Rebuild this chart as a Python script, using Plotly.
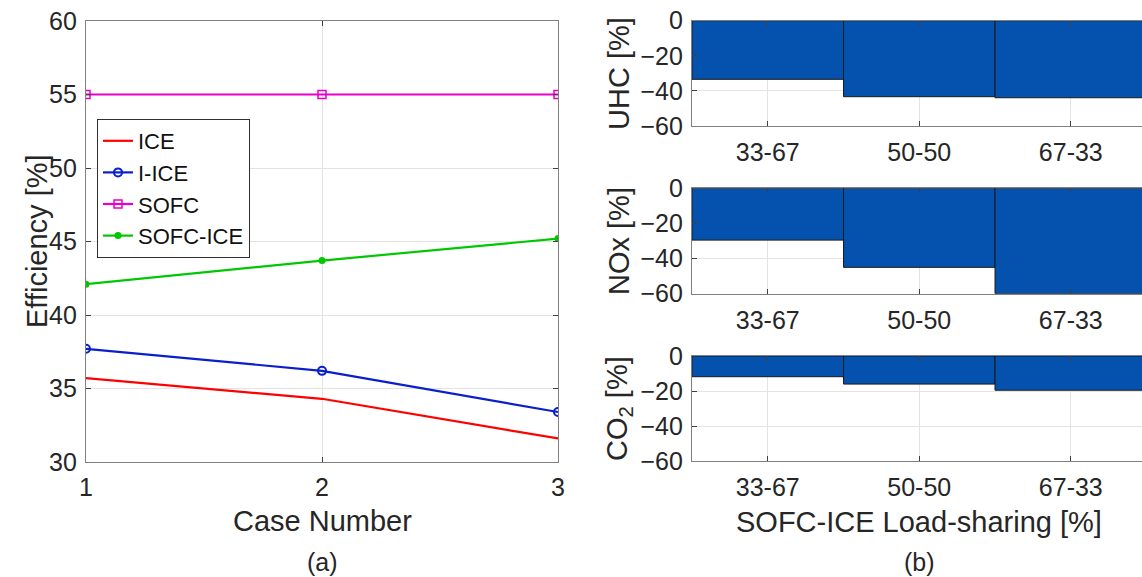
import plotly.graph_objects as go

# ---- data ----
cases = [1, 2, 3]
eff_ice = [35.7, 34.3, 31.6]
eff_iice = [37.7, 36.2, 33.4]
eff_sofc = [55.0, 55.0, 55.0]
eff_sofc_ice = [42.1, 43.7, 45.2]

load_sharing = ["33-67", "50-50", "67-33"]
share_pos = [1, 2, 3]
uhc_change = [-33.4, -43.3, -43.9]
nox_change = [-29.5, -45.0, -60.0]
co2_change = [-11.8, -16.0, -19.5]

W, H = 1142, 577
FONT = "Liberation Sans, Arial, Helvetica, sans-serif"
TXT = "#262626"
AX = "#808080"
GRID = "#e3e3e3"
BAR = "#0452ae"


def px(x):
    return x / W


def py(y):
    return 1 - y / H


fig = go.Figure()

# ---- panel (a): efficiency lines ----
fig.add_trace(go.Scatter(x=cases, y=eff_ice, name="ICE", mode="lines",
                         line=dict(color="#ff0000", width=2.2),
                         xaxis="x", yaxis="y"))
fig.add_trace(go.Scatter(x=cases, y=eff_iice, name="I-ICE", mode="lines+markers",
                         line=dict(color="#0a1ecc", width=2.2),
                         marker=dict(symbol="circle-open", size=8,
                                     line=dict(width=2, color="#0a1ecc")),
                         xaxis="x", yaxis="y"))
fig.add_trace(go.Scatter(x=cases, y=eff_sofc, name="SOFC", mode="lines+markers",
                         line=dict(color="#e600c8", width=2.2),
                         marker=dict(symbol="square-open", size=8,
                                     line=dict(width=1.5, color="#e600c8")),
                         xaxis="x", yaxis="y"))
fig.add_trace(go.Scatter(x=cases, y=eff_sofc_ice, name="SOFC-ICE", mode="lines+markers",
                         line=dict(color="#00c800", width=2.2),
                         marker=dict(symbol="circle", size=7, color="#00c800"),
                         xaxis="x", yaxis="y"))

# ---- panel (b): emission change bars ----
for vals, xa, ya in [(uhc_change, "x2", "y2"),
                     (nox_change, "x3", "y3"),
                     (co2_change, "x4", "y4")]:
    fig.add_trace(go.Bar(x=share_pos, y=vals, width=1.0, showlegend=False,
                         marker=dict(color=BAR, line=dict(color="#1a1a1a", width=1)),
                         xaxis=xa, yaxis=ya))

common = dict(showline=True, linecolor=AX, linewidth=1.2, gridcolor=GRID,
              showgrid=True, zeroline=False, ticks="inside", ticklen=5,
              tickcolor="#404040", tickfont=dict(family=FONT, size=25, color=TXT),
              automargin=False)

xr_left, xr_right = 86, 558
right_l = 692

layout_axes = dict(
    xaxis=dict(domain=[px(xr_left), px(xr_right)], range=[1, 3],
               tickvals=[1, 2, 3], mirror="ticks", anchor="y",
               ticklabelstandoff=3, **common),
    yaxis=dict(domain=[py(462), py(21)], range=[30, 60],
               tickvals=[30, 35, 40, 45, 50, 55, 60], mirror="ticks", anchor="x",
               ticklabelstandoff=3, **common),
)

panels = [(20.7, 126.0), (188.3, 293.7), (356.0, 461.3)]
for i, (top, bot) in enumerate(panels, start=2):
    layout_axes[f"xaxis{i}"] = dict(domain=[px(right_l), 1.0], range=[0.5, 3.47],
                                    tickvals=share_pos, ticktext=load_sharing,
                                    mirror="ticks", anchor=f"y{i}",
                                    ticklabelstandoff=4, **common)
    layout_axes[f"yaxis{i}"] = dict(domain=[py(bot), py(top)], range=[-60, 0],
                                    tickvals=[-60, -40, -20, 0], mirror=False,
                                    anchor=f"x{i}", ticklabelstandoff=3, **common)

fig.update_layout(
    width=W, height=H,
    margin=dict(l=0, r=0, t=0, b=0),
    paper_bgcolor="white", plot_bgcolor="white",
    font=dict(family=FONT, color=TXT),
    barmode="overlay",
    showlegend=True,
    legend=dict(x=px(97), y=py(119), xanchor="left", yanchor="top",
                bgcolor="white", bordercolor="#303030", borderwidth=1,
                font=dict(family=FONT, size=22, color="#111111"),
                itemwidth=30, tracegroupgap=0),
    **layout_axes,
)


def label(text, x, y, size=29, angle=0):
    fig.add_annotation(text=text, x=px(x), y=py(y), xref="paper", yref="paper",
                       showarrow=False, textangle=angle, xanchor="center",
                       yanchor="middle",
                       font=dict(family=FONT, size=size, color=TXT))


label("Efficiency [%]", 37, 241, angle=-90)
label("Case Number", 322, 521)
label("(a)", 322, 562, size=25)
label("UHC [%]", 619, 73, angle=-90)
label("NOx [%]", 619, 241, angle=-90)
label("CO<sub>2</sub> [%]", 619, 408, angle=-90)
label("SOFC-ICE Load-sharing [%]", 919, 522)
label("(b)", 919, 562, size=25)

fig.write_html("out.html")
